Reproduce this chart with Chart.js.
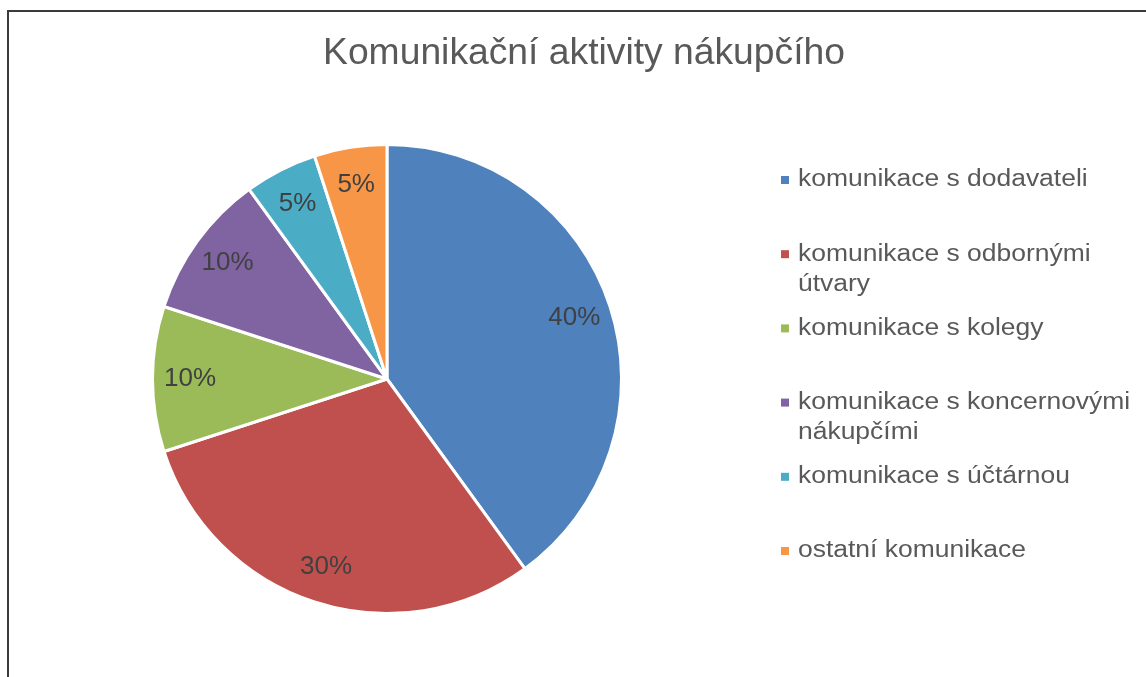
<!DOCTYPE html>
<html><head><meta charset="utf-8">
<script src="https://cdn.jsdelivr.net/npm/chart.js@4/dist/chart.umd.min.js"></script>
<style>
html,body{margin:0;padding:0;background:#fff;overflow:hidden;}
#frame{position:absolute;left:7px;top:10px;width:1200px;height:720px;border:2px solid #3a3a3a;box-sizing:border-box;}
#wrap{position:absolute;left:0;top:0;width:1146px;height:677px;}
</style></head>
<body>
<div id="frame"></div>
<div id="wrap"><canvas id="c" width="1146" height="677"></canvas></div>
<script>
const titleText = "Komunikační aktivity nákupčího";
const categories = [
  "komunikace s dodavateli",
  "komunikace s odbornými útvary",
  "komunikace s kolegy",
  "komunikace s koncernovými nákupčími",
  "komunikace s účtárnou",
  "ostatní komunikace"
];
const legendLines = [
  ["komunikace s dodavateli"],
  ["komunikace s odbornými", "útvary"],
  ["komunikace s kolegy"],
  ["komunikace s koncernovými", "nákupčími"],
  ["komunikace s účtárnou"],
  ["ostatní komunikace"]
];
const values = [40, 30, 10, 10, 5, 5];
const colors = ["#4F81BD", "#C0504D", "#9BBB59", "#8064A2", "#4BACC6", "#F79646"];
const FONT = "'Liberation Sans', Arial, sans-serif";

function stretchText(ctx, text, x, y, sx) {
  ctx.save();
  ctx.translate(x, y);
  ctx.scale(sx, 1);
  ctx.fillText(text, 0, 0);
  ctx.restore();
}

const overlay = {
  id: 'overlay',
  afterDraw(chart) {
    const ctx = chart.ctx;
    ctx.save();
    // title
    ctx.fillStyle = '#595959';
    ctx.font = '36px ' + FONT;
    ctx.textAlign = 'center';
    ctx.textBaseline = 'alphabetic';
    stretchText(ctx, titleText, 584, 64, 1.035);
    // data labels
    const meta = chart.getDatasetMeta(0);
    const total = values.reduce((a, b) => a + b, 0);
    ctx.font = '26px ' + FONT;
    ctx.textBaseline = 'middle';
    ctx.fillStyle = '#404040';
    meta.data.forEach((arc, i) => {
      const p = arc.getProps(['x', 'y', 'startAngle', 'endAngle', 'outerRadius'], true);
      const mid = (p.startAngle + p.endAngle) / 2;
      const r = p.outerRadius * 0.84;
      const pct = Math.round(values[i] / total * 100) + '%';
      ctx.fillText(pct, p.x + Math.cos(mid) * r, p.y + Math.sin(mid) * r);
    });
    // legend
    ctx.textAlign = 'left';
    ctx.font = '23px ' + FONT;
    legendLines.forEach((lines, i) => {
      const y = 180 + i * 74.2;
      ctx.fillStyle = colors[i];
      ctx.fillRect(781, y - 4, 8, 8);
      ctx.fillStyle = '#595959';
      lines.forEach((ln, j) => stretchText(ctx, ln, 798, y + j * 30, 1.15));
    });
    ctx.restore();
  }
};

new Chart(document.getElementById('c'), {
  type: 'pie',
  data: {
    labels: categories,
    datasets: [{
      data: values,
      backgroundColor: colors,
      borderColor: '#ffffff',
      borderWidth: 3
    }]
  },
  options: {
    responsive: false,
    animation: false,
    layout: { padding: { left: 151, top: 143, right: 523, bottom: 62 } },
    plugins: {
      legend: { display: false },
      title: { display: false },
      tooltip: { enabled: false }
    }
  },
  plugins: [overlay]
});
</script>
</body></html>
